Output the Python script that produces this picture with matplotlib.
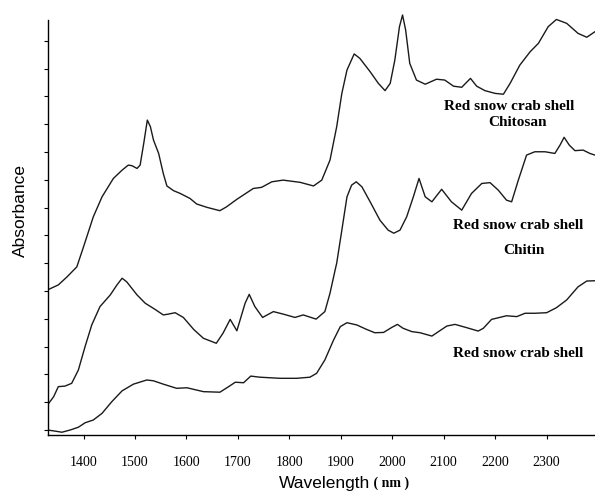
import numpy as np
import matplotlib
matplotlib.use('Agg')
from matplotlib import pyplot as plt

# NIR spectra (arbitrary absorbance units, curves offset)
chitosan_wl = [1330, 1351, 1368, 1387, 1400, 1419, 1436, 1458, 1475, 1487, 1494, 1504, 1510, 1517,
               1524, 1530, 1536, 1546, 1555, 1562, 1575, 1588, 1607, 1620, 1640, 1665, 1678, 1698,
               1730, 1746, 1766, 1788, 1821, 1847, 1863, 1879, 1892, 1902, 1912, 1926, 1937, 1957,
               1973, 1986, 1996, 2005, 2014, 2020, 2026, 2034, 2047, 2064, 2086, 2102, 2119, 2135,
               2152, 2164, 2180, 2200, 2216, 2229, 2248, 2268, 2284, 2303, 2319, 2339, 2361, 2378, 2394]
chitosan_abs = [5.04, 5.22, 5.51, 5.87, 6.59, 7.67, 8.39, 9.05, 9.35, 9.53, 9.51, 9.41, 9.53, 10.31,
                11.15, 10.91, 10.43, 9.95, 9.23, 8.78, 8.61, 8.51, 8.33, 8.13, 8.01, 7.89, 8.03, 8.30,
                8.69, 8.73, 8.93, 8.99, 8.91, 8.78, 8.99, 9.71, 10.91, 12.11, 12.95, 13.53, 13.37, 12.89,
                12.47, 12.21, 12.47, 13.31, 14.51, 14.93, 14.39, 13.19, 12.59, 12.44, 12.62, 12.59, 12.37, 12.33,
                12.65, 12.37, 12.21, 12.11, 12.08, 12.47, 13.13, 13.61, 13.91, 14.51, 14.77, 14.63, 14.27, 14.13, 14.33]

chitin_wl = [1330, 1342, 1351, 1364, 1377, 1390, 1403, 1416, 1432, 1452, 1465, 1475, 1484, 1504,
             1520, 1539, 1555, 1565, 1578, 1594, 1614, 1633, 1658, 1671, 1685, 1698, 1714, 1722,
             1733, 1748, 1769, 1788, 1811, 1827, 1852, 1869, 1879, 1889, 1892, 1902, 1912, 1921,
             1930, 1941, 1957, 1976, 1992, 2003, 2015, 2028, 2041, 2052, 2064, 2077, 2096, 2115,
             2135, 2154, 2174, 2190, 2206, 2222, 2232, 2245, 2261, 2277, 2297, 2316, 2326, 2334,
             2344, 2355, 2371, 2384, 2394]
chitin_abs = [0.90, 1.20, 1.56, 1.58, 1.68, 2.16, 3.00, 3.78, 4.44, 4.86, 5.22, 5.46, 5.33, 4.86,
              4.56, 4.34, 4.14, 4.17, 4.22, 4.05, 3.62, 3.30, 3.12, 3.48, 3.98, 3.57, 4.56, 4.88,
              4.44, 4.05, 4.26, 4.17, 4.05, 4.14, 3.99, 4.26, 4.92, 5.76, 6.00, 7.19, 8.39, 8.81,
              8.93, 8.75, 8.21, 7.55, 7.19, 7.08, 7.19, 7.67, 8.39, 9.05, 8.39, 8.21, 8.66, 8.21,
              7.91, 8.51, 8.87, 8.90, 8.63, 8.27, 8.21, 8.99, 9.89, 10.01, 10.01, 9.95, 10.25, 10.53,
              10.25, 10.05, 10.07, 9.95, 9.89]

shell_wl = [1330, 1345, 1358, 1374, 1390, 1403, 1419, 1436, 1455, 1475, 1497, 1523, 1536, 1555,
            1581, 1601, 1633, 1665, 1682, 1695, 1711, 1725, 1743, 1782, 1814, 1840, 1853, 1869,
            1886, 1899, 1912, 1931, 1950, 1966, 1983, 1999, 2010, 2021, 2038, 2054, 2077, 2106,
            2122, 2145, 2167, 2177, 2193, 2222, 2242, 2258, 2277, 2300, 2319, 2339, 2361, 2378, 2394]
shell_abs = [0.00, -0.04, -0.08, 0.00, 0.10, 0.26, 0.36, 0.60, 1.02, 1.41, 1.65, 1.80, 1.77, 1.65,
             1.50, 1.52, 1.38, 1.36, 1.56, 1.72, 1.70, 1.94, 1.90, 1.86, 1.86, 1.90, 2.04, 2.52,
             3.24, 3.72, 3.86, 3.78, 3.62, 3.50, 3.51, 3.69, 3.80, 3.66, 3.54, 3.50, 3.38, 3.74,
             3.80, 3.68, 3.56, 3.66, 3.98, 4.11, 4.08, 4.20, 4.20, 4.22, 4.40, 4.68, 5.15, 5.36, 5.37]

x_ticks = [1400, 1500, 1600, 1700, 1800, 1900, 2000, 2100, 2200, 2300]

fig = plt.figure(figsize=(5.95, 4.94), dpi=100)
ax = fig.add_axes([0.0807, 0.1194, 0.9193, 0.8806])

for wl, a in [(chitosan_wl, chitosan_abs), (chitin_wl, chitin_abs), (shell_wl, shell_abs)]:
    ax.plot(wl, a, color='#1a1a1a', lw=1.0, solid_joinstyle='round')

ax.set_xlim(1331, 2394)
ax.set_ylim(-0.18, 15.47)
ax.spines['top'].set_visible(False)
ax.spines['right'].set_visible(False)
ax.spines['left'].set_bounds(-0.18, 14.75)
ax.spines['left'].set_linewidth(1.0)
ax.spines['bottom'].set_linewidth(1.0)

ax.set_xticks(x_ticks)
ax.set_xticklabels([str(t) for t in x_ticks], fontfamily='Liberation Serif', fontsize=10)
ax.set_yticks(range(15))
ax.set_yticklabels([])
ax.tick_params(axis='both', direction='out', length=3, width=0.8)
ax.tick_params(axis='x', pad=12)

ax.set_ylabel('Absorbance', fontfamily='Liberation Sans', fontsize=12.5, labelpad=8)
ax.yaxis.label.set_y(0.515)
ax.set_xlabel('Wavelength', fontfamily='Liberation Sans', fontsize=12.5, labelpad=5)
ax.xaxis.label.set_x(0.505)
ax.annotate(' ( nm )', xy=(1, 0.5), xycoords=ax.xaxis.label, ha='left', va='center',
            fontfamily='Liberation Serif', fontweight='bold', fontsize=10)

lab = dict(fontfamily='Liberation Serif', fontweight='bold', fontsize=11, ha='center', va='center')
ax.text(2228, 11.65, 'Red snow crab shell', **lab)
ax.text(2244, 11.05, 'Chitosan', **lab)
ax.text(2244, 7.34, 'Red snow crab shell', **lab)
ax.text(2256, 6.45, 'Chitin', **lab)
ax.text(2244, 2.76, 'Red snow crab shell', **lab)

plt.savefig('out.png', dpi=100)
